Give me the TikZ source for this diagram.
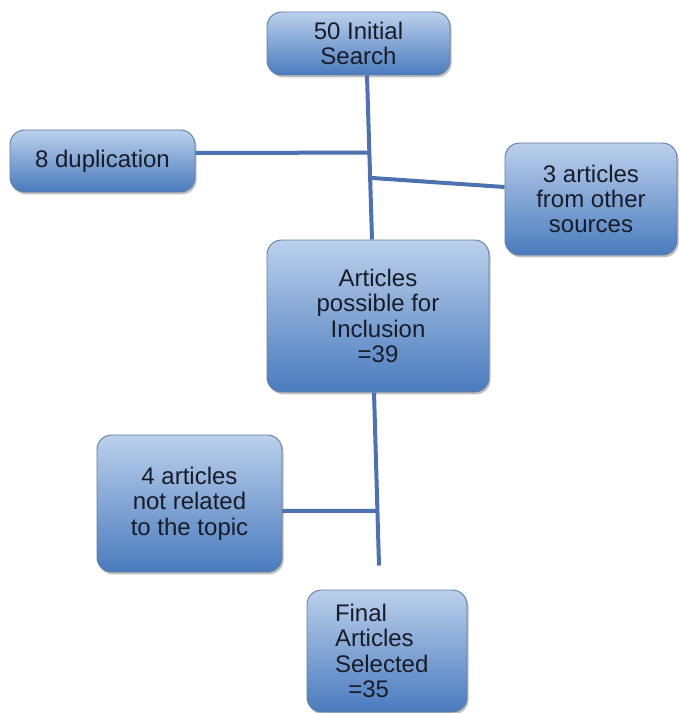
\documentclass[tikz,border=0pt]{standalone}
\usepackage{fontspec}
\setmainfont{Liberation Sans}
\usetikzlibrary{calc,shadows}
\definecolor{boxtop}{RGB}{187,208,236}
\definecolor{boxbot}{RGB}{74,123,190}
\definecolor{boxedge}{RGB}{98,126,164}
\definecolor{connclr}{RGB}{76,114,176}
\definecolor{txtclr}{RGB}{24,28,40}
\tikzset{
  flowbox/.style={draw=boxedge, line width=0.7pt, rounded corners=11pt,
    top color=boxtop, bottom color=boxbot, inner sep=0pt, align=center,
    text=txtclr, font=\fontsize{18}{19}\selectfont,
    drop shadow={shadow xshift=1.2pt, shadow yshift=-1.8pt, opacity=0.35, fill=black!70}},
  conn/.style={draw=connclr, line width=3pt}
}
\begin{document}
\begin{tikzpicture}[x=0.75pt, y=-0.75pt]
\useasboundingbox (0,0) rectangle (678,713);
\node[flowbox, minimum width=137.25pt, minimum height=47.25pt] (s) at (358.5,43.5) {50 Initial\\Search};
\node[flowbox, minimum width=138.75pt, minimum height=46.5pt] (dup) at (102.5,161) {8 duplication};
\node[flowbox, minimum width=129pt, minimum height=84pt] (oth) at (591,199) {3 articles\\from other\\sources};
\node[flowbox, minimum width=166.5pt, minimum height=114pt] (art) at (378,316) {Articles\\possible for\\Inclusion\\=39};
\node[flowbox, minimum width=138.75pt, minimum height=102.75pt] (rel) at (189.5,503.5) {4 articles\\not related\\to the topic};
\node[flowbox, minimum width=120pt, minimum height=91.5pt, text width=78pt, inner xsep=21pt, align=left] (fin) at (387,651) {Final\\Articles\\Selected\\\hspace*{10pt}=35};
% upper trunk
\draw[conn] ($(s.south)+(8.5,0)$) -- ($(art.north)+(-6,0)$)
  coordinate[pos=0.47] (j1) coordinate[pos=0.624] (j2);
\draw[conn] ($(dup.east)+(0,-8)$) -- (j1);
\draw[conn] (j2) -- ($(oth.west)+(0,-12)$);
% lower trunk
\coordinate (e) at ($(fin.north)+(-8,-24)$);
\draw[conn] ($(art.south)+(-4,0)$) -- (e) coordinate[pos=0.684] (j3);
\draw[conn] ($(rel.east)+(0,7.5)$) -- (j3);
\end{tikzpicture}
\end{document}
